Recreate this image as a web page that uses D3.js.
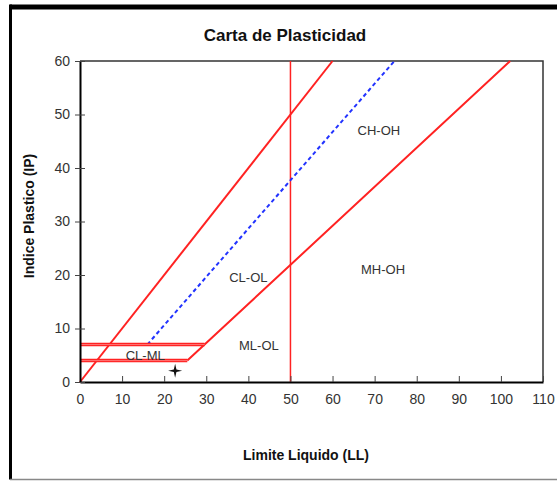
<!DOCTYPE html>
<html>
<head>
<meta charset="utf-8">
<script src="https://cdn.jsdelivr.net/npm/d3@7"></script>
<style>
  body { margin: 0; background: #fff; }
  svg { display: block; font-family: "Liberation Sans Narrow", "Liberation Sans", Arial, sans-serif; }
</style>
</head>
<body>
<svg id="chart"></svg>
<script>
(function () {
    const width = 557, height = 481;

    // data
    const xTicks = [0, 10, 20, 30, 40, 50, 60, 70, 80, 90, 100, 110];
    const yTicks = [0, 10, 20, 30, 40, 50, 60];
    const lineIP = [[0, 0], [60, 60]];                  // IP = LL
    const lineU = [[16, 7], [74.7, 60]];                // linea U (discontinua)
    const lineA = [[25.5, 4], [29.6, 7], [102.2, 60]];  // linea A
    const lineLL50 = [[50, 0], [50, 60]];
    const band7 = [[0, 7], [29.6, 7]];
    const band4 = [[0, 4], [25.5, 4]];
    const zones = [
        { name: "CH-OH", x: 71, y: 47 },
        { name: "CL-OL", x: 40, y: 19.5 },
        { name: "MH-OH", x: 72, y: 21 },
        { name: "ML-OL", x: 42.5, y: 6.8 },
        { name: "CL-ML", x: 15.5, y: 5 }
    ];
    const sample = [[22.6, 2.1]];

    const svg = d3.select('#chart')
        .attr("width", width)
        .attr("height", height);

    // outer frame
    svg.append("rect").attr("x", 10).attr("y", 4.5).attr("width", 547).attr("height", 5).attr("fill", "#000");
    svg.append("rect").attr("x", 9).attr("y", 4.5).attr("width", 3).attr("height", 475).attr("fill", "#000");
    svg.append("line").attr("x1", 10).attr("x2", 557).attr("y1", 479.5).attr("y2", 479.5)
        .attr("stroke", "#888").attr("stroke-width", 1.5);

    const x = d3.scaleLinear().domain([0, 110]).range([80, 543]);
    const y = d3.scaleLinear().domain([0, 60]).range([382, 61]);

    // plot box (top/right)
    svg.append("path")
        .attr("d", `M${x(0)},${y(60)}H${x(110)}V${y(0)}`)
        .attr("fill", "none").attr("stroke", "#333").attr("stroke-width", 1.5);

    const line = d3.line().x(d => x(d[0])).y(d => y(d[1]));

    svg.append("path").attr("d", line(lineLL50)).attr("fill", "none").attr("stroke", "#f22").attr("stroke-width", 1.5);
    svg.append("path").attr("d", line(lineIP)).attr("fill", "none").attr("stroke", "#f22").attr("stroke-width", 2);
    svg.append("path").attr("d", line(lineA)).attr("fill", "none").attr("stroke", "#f22").attr("stroke-width", 2);
    svg.append("path").attr("d", line(lineU)).attr("fill", "none").attr("stroke", "#2233ff")
        .attr("stroke-width", 2).attr("stroke-dasharray", "4,3");

    [band7, band4].forEach(b => {
        svg.append("path").attr("d", line(b)).attr("fill", "none").attr("stroke", "#f22").attr("stroke-width", 3.5);
        svg.append("path").attr("d", line(b)).attr("fill", "none").attr("stroke", "#ff8c8c").attr("stroke-width", 0.8);
    });

    // axes
    const xAxis = svg.append("g")
        .attr("transform", `translate(0,${y(0)})`)
        .call(d3.axisBottom(x).tickValues(xTicks).tickSizeInner(-6).tickSizeOuter(0).tickPadding(12));
    xAxis.select(".domain").attr("stroke", "#000").attr("stroke-width", 2);
    xAxis.selectAll(".tick line").attr("stroke", "#444");
    xAxis.selectAll("text").attr("font-size", 14).attr("fill", "#333");

    const yAxis = svg.append("g")
        .attr("transform", `translate(${x(0)},0)`)
        .call(d3.axisLeft(y).tickValues(yTicks).tickSize(0).tickPadding(10));
    yAxis.select(".domain").attr("stroke", "#000").attr("stroke-width", 2);
    yAxis.selectAll(".tick").append("line").attr("x1", -5).attr("x2", 5).attr("stroke", "#444");
    yAxis.selectAll("text").attr("font-size", 14).attr("fill", "#333");

    // zone labels
    svg.selectAll(".zone")
        .data(zones)
        .enter()
        .append("text")
        .attr("class", "zone")
        .attr("x", d => x(d.x))
        .attr("y", d => y(d.y))
        .attr("text-anchor", "middle")
        .attr("dy", "0.35em")
        .attr("font-size", 13)
        .attr("fill", "#333")
        .text(d => d.name);

    // sample point (4-point star)
    svg.selectAll(".pt")
        .data(sample)
        .enter()
        .append("path")
        .attr("class", "pt")
        .attr("transform", d => `translate(${x(d[0])},${y(d[1])})`)
        .attr("d", d3.symbol().type({
            draw(ctx) {
                ctx.moveTo(0, -7); ctx.lineTo(1.3, -1.3); ctx.lineTo(7, 0); ctx.lineTo(1.3, 1.3);
                ctx.lineTo(0, 7); ctx.lineTo(-1.3, 1.3); ctx.lineTo(-7, 0); ctx.lineTo(-1.3, -1.3);
                ctx.closePath();
            }
        })())
        .attr("fill", "#111");

    // titles
    svg.append("text").attr("x", 285).attr("y", 41).attr("text-anchor", "middle")
        .attr("font-size", 17).attr("font-weight", "bold").attr("fill", "#111")
        .text("Carta de Plasticidad");
    svg.append("text").attr("x", 306).attr("y", 460).attr("text-anchor", "middle")
        .attr("font-size", 14).attr("font-weight", "bold").attr("fill", "#111")
        .text("Limite Liquido (LL)");
    svg.append("text").attr("transform", "translate(34,216) rotate(-90)").attr("text-anchor", "middle")
        .attr("font-size", 14).attr("font-weight", "bold").attr("fill", "#111")
        .text("Indice Plastico (IP)");
})();
</script>
</body>
</html>
